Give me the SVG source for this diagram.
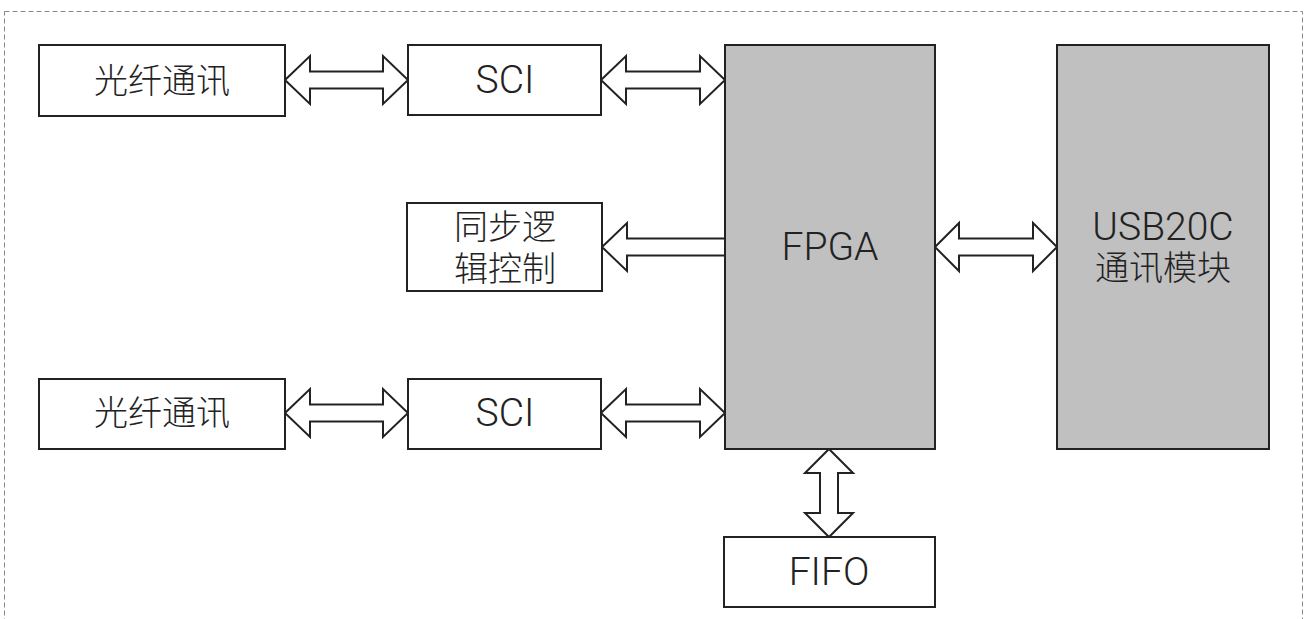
<svg xmlns="http://www.w3.org/2000/svg" width="1306" height="619" viewBox="0 0 1306 619">
<style>
.box{fill:#fff;stroke:#222;stroke-width:2}
.chip{fill:#c0c0c0;stroke:#222;stroke-width:2}
.arr{fill:#fff;stroke:#222;stroke-width:2;stroke-linejoin:miter}
.t{font-family:"Roboto","Noto Sans CJK SC",sans-serif;font-weight:300;font-size:34px;fill:#222;text-anchor:middle;dominant-baseline:central}
.lat{font-size:39px}
</style>
<rect x="4.5" y="11.5" width="1298" height="620" fill="none" stroke="#888" stroke-width="1" stroke-dasharray="5,3"/>
<g id="connectors">
<polygon class="arr" points="285,80 310,56 310,71.5 383,71.5 383,56 408,80 383,104 383,88.5 310,88.5 310,104"/>
<polygon class="arr" points="601,80 626,56 626,71.5 700,71.5 700,56 725,80 700,104 700,88.5 626,88.5 626,104"/>
<polygon class="arr" points="285,413 310,389 310,404.5 383,404.5 383,389 408,413 383,437 383,421.5 310,421.5 310,437"/>
<polygon class="arr" points="601,413 626,389 626,404.5 700,404.5 700,389 725,413 700,437 700,421.5 626,421.5 626,437"/>
<polygon class="arr" points="935,247 959,223 959,238.5 1033,238.5 1033,223 1057,247 1033,271 1033,255.5 959,255.5 959,271"/>
<polygon class="arr" points="725,238.5 627,238.5 627,223 602,247 627,271 627,255.5 725,255.5"/>
<polygon class="arr" points="829,449 853,473 838,473 838,513 853,513 829,537 805,513 820,513 820,473 805,473"/>
</g>
<g id="fiber1"><rect class="box" x="39" y="45" width="246" height="71"/><text class="t" x="162" y="81">光纤通讯</text></g>
<g id="sci1"><rect class="box" x="408" y="45" width="193" height="70"/><text class="t lat" x="505" y="80">SCI</text></g>
<g id="sync"><rect class="box" x="407" y="203" width="195" height="88"/><text class="t" x="505" y="227">同步逻</text><text class="t" x="505" y="269">辑控制</text></g>
<g id="fiber2"><rect class="box" x="39" y="379" width="246" height="70"/><text class="t" x="162" y="413">光纤通讯</text></g>
<g id="sci2"><rect class="box" x="408" y="379" width="193" height="70"/><text class="t lat" x="505" y="413">SCI</text></g>
<g id="fpga"><rect class="chip" x="725" y="45" width="210" height="404"/><text class="t lat" x="830" y="247">FPGA</text></g>
<g id="usb"><rect class="chip" x="1057" y="45" width="212" height="404" stroke-width="2.5"/><text class="t lat" x="1163" y="227">USB20C</text><text class="t" x="1163" y="268">通讯模块</text></g>
<g id="fifo"><rect class="box" x="724" y="537" width="211" height="70"/><text class="t lat" x="829" y="572">FIFO</text></g>
</svg>
